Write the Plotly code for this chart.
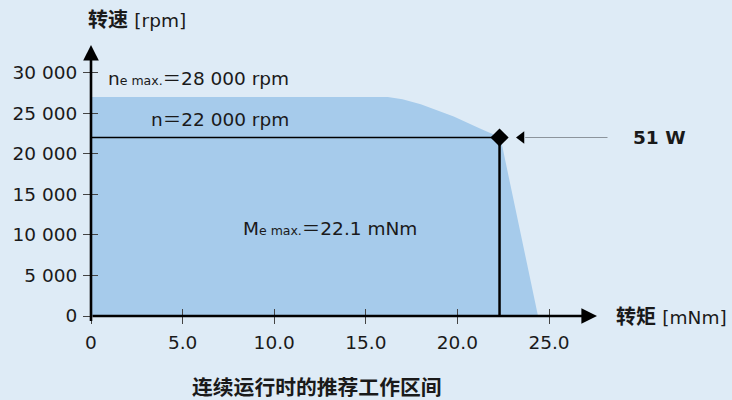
import plotly.graph_objects as go

# ---- data ----
area_torque = [0, 0, 16.2, 17.0, 18.0, 19.8, 21.2, 22.0, 22.35, 24.4, 0]
area_speed = [0, 27000, 27000, 26700, 26100, 24600, 23150, 22300, 22000, 0, 0]
op_torque = 22.3
op_speed = 22000
x_tickvals = [0, 5, 10, 15, 20, 25]
x_ticktext = ["0", "5.0", "10.0", "15.0", "20.0", "25.0"]
y_tickvals = [0, 5000, 10000, 15000, 20000, 25000, 30000]
y_ticktext = ["0", "5 000", "10 000", "15 000", "20 000", "25 000", "30 000"]

BG = "#deebf6"
FILL = "#a6cbeb"
TXT = "#1a1a1a"
FONT = "DejaVu Sans, Noto Sans CJK SC, sans-serif"

XMAX = 27.62
YMAX = 33400

# pixel helpers for annotation placement (plot area: l=91, r=597, top=45, bottom=316.5)
def px_x(px):
    return (px - 91) / 506 * XMAX

def px_y(py):
    return (316.5 - py) / 271.5 * YMAX

def pp_x(px):
    return (px - 91) / 506

def pp_y(py):
    return (316.5 - py) / 271.5

fig = go.Figure()
fig.add_trace(go.Scatter(x=area_torque, y=area_speed, fill="toself", fillcolor=FILL,
                         line=dict(width=0), mode="lines", hoverinfo="skip"))
fig.add_trace(go.Scatter(x=[0, op_torque], y=[op_speed, op_speed], mode="lines",
                         line=dict(color="black", width=1.3)))
fig.add_trace(go.Scatter(x=[op_torque, op_torque], y=[0, op_speed], mode="lines",
                         line=dict(color="black", width=2.5)))
fig.add_trace(go.Scatter(x=[op_torque], y=[op_speed], mode="markers",
                         marker=dict(symbol="diamond", size=14, color="black"), cliponaxis=False))
fig.add_trace(go.Scatter(x=[23.5], y=[op_speed], mode="markers",
                         marker=dict(symbol="triangle-left", size=11, color="black"), cliponaxis=False))
# dummy trace for overlay axes (inside ticks)
fig.add_trace(go.Scatter(x=[0], y=[0], xaxis="x2", yaxis="y2", mode="markers",
                         marker=dict(opacity=0), hoverinfo="skip"))

common_axis = dict(showgrid=False, zeroline=False, showline=False, ticks="outside",
                   ticklen=7, tickwidth=1, tickcolor="#444",
                   tickfont=dict(family=FONT, size=18.5, color=TXT))
fig.update_layout(
    width=732, height=400,
    margin=dict(l=91, r=135, t=45, b=83.5),
    paper_bgcolor=BG, plot_bgcolor=BG,
    showlegend=False,
    xaxis=dict(range=[0, XMAX], tickvals=x_tickvals, ticktext=x_ticktext,
               ticklabelstandoff=3, **common_axis),
    yaxis=dict(range=[0, YMAX], tickvals=y_tickvals, ticktext=y_ticktext,
               ticklabelstandoff=2, **common_axis),
    xaxis2=dict(range=[0, XMAX], overlaying="x", anchor="y2", showgrid=False, zeroline=False,
                tickvals=x_tickvals, ticks="inside", ticklen=7, tickwidth=1, tickcolor="#444",
                showticklabels=False),
    yaxis2=dict(range=[0, YMAX], overlaying="y", anchor="x2", showgrid=False, zeroline=False,
                tickvals=y_tickvals, ticks="inside", ticklen=7, tickwidth=1, tickcolor="#444",
                showticklabels=False),
)

anns = []
# axes with arrowheads
anns.append(dict(x=XMAX, y=0, ax=0, ay=0, xref="x", yref="y", axref="x", ayref="y",
                 showarrow=True, arrowhead=2, arrowsize=1.2, arrowwidth=2.6, arrowcolor="black", text=""))
anns.append(dict(x=0, y=YMAX, ax=0, ay=px_y(323), xref="x", yref="y", axref="x", ayref="y",
                 showarrow=True, arrowhead=2, arrowsize=1.2, arrowwidth=2.6, arrowcolor="black", text=""))
# gray pointer line
anns.append(dict(x=23.7, y=op_speed, ax=px_x(609), ay=op_speed, xref="x", yref="y", axref="x", ayref="y",
                 showarrow=True, arrowhead=0, arrowwidth=1, arrowcolor="#8c949c", text=""))

def txt(text, px, py, xanchor="left", size=18.5):
    anns.append(dict(text=text, x=pp_x(px), y=pp_y(py), xref="paper", yref="paper",
                     xanchor=xanchor, yanchor="middle", showarrow=False,
                     font=dict(family=FONT, size=size, color=TXT)))

txt("<b>转速</b> <span style='font-size:18.5px'>[rpm]</span>", 86, 20, size=20)
txt("<b>转矩</b> <span style='font-size:18.5px'>[mNm]</span>", 614, 318, size=20)
txt("<b>连续运行时的推荐工作区间</b>", 317, 389, xanchor="center", size=20.8)
txt("<b>51 W</b>", 631, 138)
txt("n<span style='font-size:12.5px'>e max.</span>＝28 000 rpm", 291, 79, xanchor="right")
txt("n＝22 000 rpm", 291, 120, xanchor="right")
txt("M<span style='font-size:12.5px'>e max.</span>＝22.1 mNm", 330, 229, xanchor="center")

fig.update_layout(annotations=anns)
fig.write_html("out.html", config={"displayModeBar": False},
               post_script="document.body.style.margin='0';")
